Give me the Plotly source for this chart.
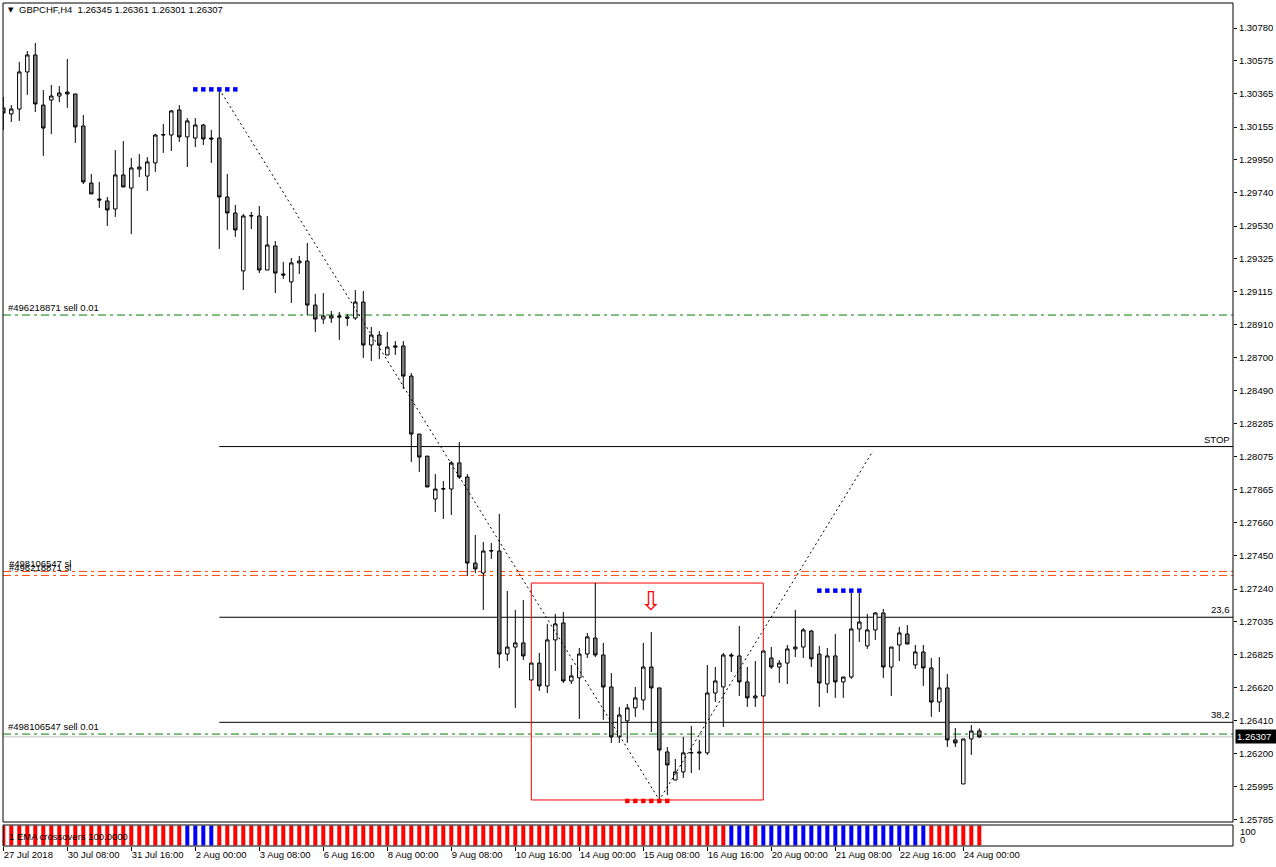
import plotly.graph_objects as go

# ---------------- data (GBPCHF, H4) ----------------
opens = [1.30276,1.30238,1.30269,1.30503,1.30610,1.30294,1.30326,1.30351,1.30376,1.30364,
         1.30162,1.29802,1.29701,1.29689,1.29638,1.29853,1.29770,1.29890,1.29846,1.29929,
         1.30105,1.30105,1.30263,1.30093,1.30086,1.30168,1.30086,1.30086,1.29714,1.29613,
         1.29247,1.29594,1.29594,1.29253,1.29405,1.29228,1.29178,1.29298,1.29310,1.29032,
         1.28944,1.28950,1.28963,1.28957,1.28950,1.29051,1.28780,1.28843,1.28717,1.28774,
         1.28774,1.28584,1.28218,1.28079,1.27808,1.27871,1.27871,1.28036,1.27947,1.27404,
         1.27341,1.27480,1.27480,1.26830,1.26874,1.26900,1.26666,1.26773,1.26628,1.26919,
         1.27026,1.26660,1.26680,1.26830,1.26931,1.26824,1.26622,1.26307,1.26408,1.26490,
         1.26540,1.26748,1.26616,1.26212,1.26035,1.26086,1.26206,1.26212,1.26206,1.26584,
         1.26622,1.26824,1.26818,1.26654,1.26553,1.26565,1.26805,1.26748,1.26773,1.26862,
         1.26874,1.26975,1.26830,1.26641,1.26818,1.26654,1.26685,1.26988,1.26881,1.26982,
         1.27089,1.26748,1.26887,1.26956,1.26761,1.26843,1.26742,1.26527,1.26616,1.26288,
         1.26010,1.26294,1.26345]
highs = [1.30345,1.30294,1.30566,1.30635,1.30686,1.30389,1.30421,1.30414,1.30585,1.30364,
         1.30231,1.29859,1.29809,1.29714,1.30010,1.30067,1.29960,1.29985,1.29966,1.30112,
         1.30175,1.30263,1.30294,1.30212,1.30212,1.30175,1.30137,1.30395,1.29859,1.29664,
         1.29607,1.29619,1.29657,1.29594,1.29436,1.29304,1.29329,1.29342,1.29424,1.29102,
         1.29108,1.28995,1.28988,1.28976,1.29127,1.29121,1.28894,1.28868,1.28862,1.28805,
         1.28805,1.28603,1.28218,1.28079,1.27966,1.27922,1.28048,1.28168,1.27966,1.27581,
         1.27537,1.27531,1.27714,1.27228,1.27108,1.27171,1.26773,1.26837,1.27020,1.27083,
         1.27095,1.26761,1.26868,1.26963,1.27278,1.26900,1.26710,1.26496,1.26515,1.26622,
         1.26900,1.26969,1.26616,1.26243,1.26168,1.26307,1.26376,1.26288,1.26761,1.26748,
         1.26837,1.26837,1.27007,1.26748,1.26786,1.26849,1.26874,1.26792,1.26887,1.27108,
         1.26994,1.26982,1.26881,1.26868,1.26956,1.26680,1.27215,1.27215,1.27083,1.27095,
         1.27114,1.26874,1.27001,1.27013,1.26887,1.26887,1.26805,1.26811,1.26704,1.26363,
         1.26294,1.26382,1.26361]
lows = [1.30137,1.30187,1.30194,1.30358,1.30250,1.29973,1.30111,1.30313,1.30276,1.30055,
        1.29796,1.29733,1.29645,1.29531,1.29588,1.29777,1.29480,1.29840,1.29752,1.29872,
        1.29992,1.30004,1.30061,1.29903,1.30029,1.30042,1.29929,1.29386,1.29506,1.29462,
        1.29127,1.29512,1.29234,1.29253,1.29108,1.29197,1.29045,1.29228,1.28969,1.28862,
        1.28913,1.28919,1.28812,1.28900,1.28938,1.28698,1.28679,1.28691,1.28717,1.28717,
        1.28502,1.28042,1.27979,1.27884,1.27726,1.27682,1.27707,1.27935,1.27323,1.27341,
        1.27108,1.27430,1.26742,1.26786,1.26490,1.26792,1.26666,1.26597,1.26584,1.26723,
        1.26647,1.26641,1.26420,1.26805,1.26811,1.26414,1.26269,1.26269,1.26269,1.26433,
        1.26477,1.26338,1.25909,1.25940,1.26035,1.26048,1.26079,1.26098,1.26193,1.26527,
        1.26370,1.26717,1.26565,1.26496,1.26496,1.26565,1.26736,1.26647,1.26641,1.26811,
        1.26805,1.26748,1.26496,1.26584,1.26553,1.26553,1.26673,1.26906,1.26862,1.26919,
        1.26679,1.26565,1.26786,1.26893,1.26736,1.26628,1.26433,1.26464,1.26243,1.26243,
        1.26010,1.26193,1.26301]
closes = [1.30244,1.30269,1.30503,1.30610,1.30301,1.30149,1.30351,1.30370,1.30364,1.30156,
          1.29809,1.29733,1.29695,1.29632,1.29853,1.29777,1.29897,1.29903,1.29935,1.30105,
          1.30107,1.30257,1.30093,1.30194,1.30168,1.30080,1.30080,1.29714,1.29613,1.29506,
          1.29594,1.29596,1.29253,1.29411,1.29234,1.29222,1.29298,1.29310,1.29032,1.28944,
          1.28963,1.28963,1.28957,1.28950,1.29051,1.28780,1.28843,1.28780,1.28767,1.28767,
          1.28584,1.28218,1.28073,1.27884,1.27871,1.27873,1.28036,1.27947,1.27404,1.27367,
          1.27480,1.27482,1.26830,1.26874,1.26900,1.26818,1.26773,1.26628,1.26919,1.27020,
          1.26660,1.26692,1.26830,1.26938,1.26824,1.26622,1.26307,1.26445,1.26490,1.26553,
          1.26748,1.26616,1.26224,1.26130,1.26086,1.26206,1.26208,1.26206,1.26584,1.26660,
          1.26824,1.26818,1.26654,1.26553,1.26565,1.26849,1.26748,1.26773,1.26862,1.26874,
          1.26982,1.26799,1.26647,1.26818,1.26654,1.26685,1.26988,1.27032,1.26982,1.27089,
          1.26748,1.26874,1.26963,1.26893,1.26843,1.26742,1.26527,1.26616,1.26288,1.26269,
          1.26294,1.26344,1.26307]

# EMA crossovers indicator: 1 = up (blue), 0 = down (red); value always 100
ema_up = [0]*23 + [1]*4 + [0]*64 + [1]*3 + [0] + [1]*21 + [0]*7
ema_value = [100]*123

time_ticks = ["27 Jul 2018", "30 Jul 08:00", "31 Jul 16:00", "2 Aug 00:00", "3 Aug 08:00",
              "6 Aug 16:00", "8 Aug 00:00", "9 Aug 08:00", "10 Aug 16:00", "14 Aug 00:00",
              "15 Aug 08:00", "16 Aug 16:00", "20 Aug 00:00", "21 Aug 08:00", "22 Aug 16:00",
              "24 Aug 00:00"]
tick_every = 8

price_ticks = [1.30780, 1.30575, 1.30365, 1.30155, 1.29950, 1.29740, 1.29530, 1.29325,
               1.29115, 1.28910, 1.28700, 1.28490, 1.28285, 1.28075, 1.27865, 1.27660,
               1.27450, 1.27240, 1.27035, 1.26825, 1.26620, 1.26410, 1.26200, 1.25995, 1.25785]

# order lines
sell1_price = 1.28969      # #496218871 sell 0.01
sell2_price = 1.26325      # #498106547 sell 0.01
sl_prices = [1.27351, 1.27326]
sl_labels = ["#498106547 sl", "#496218871 sl"]
# fibonacci levels (start at the swing-high bar)
fib_start_bar = 27
fib_prices = [1.28139, 1.27062, 1.26399]
fib_labels = ["STOP", "23,6", "38,2"]
# zigzag
zz_bars = [27, 82, 108.7]
zz_prices = [1.30395, 1.25909, 1.28111]
# pattern box
box_bars = [66, 95]
box_prices = [1.25909, 1.27278]
arrow_bar, arrow_price = 81, 1.27165
# dotted level markers
blue1_bars, blue1_price = [24, 25, 26, 27, 28, 29], 1.30393
blue2_bars, blue2_price = [102, 103, 104, 105, 106, 107], 1.27230
red_bars, red_price = [78, 79, 80, 81, 82, 83], 1.25903

# ---------------- layout geometry ----------------
W_FIG, H_FIG = 1276, 867
ML, MR, MT, MB = 3, 43, 3, 21
PW, PH = W_FIG - ML - MR, H_FIG - MT - MB
def xp(px):
    return (px - ML) / PW
def yp(py):
    return (H_FIG - MB - py) / PH

main_bottom_px, ind_top_px = 822, 825
x_range = [-0.0375, 153.71]
y_range = [1.25770, 1.30938]
FONT = "Liberation Sans"
FS = 9.5

bars = list(range(len(opens)))
fig = go.Figure()

fig.add_trace(go.Candlestick(
    x=bars, open=opens, high=highs, low=lows, close=closes,
    increasing=dict(line=dict(color="black", width=1), fillcolor="white"),
    decreasing=dict(line=dict(color="black", width=1), fillcolor="#808080"),
    whiskerwidth=0, xaxis="x", yaxis="y", hoverinfo="skip", showlegend=False))

fig.add_trace(go.Scatter(x=zz_bars, y=zz_prices, mode="lines",
                         line=dict(color="black", width=1, dash="2px,3px"),
                         xaxis="x", yaxis="y", hoverinfo="skip", showlegend=False))

for bx, py, col in [(blue1_bars, blue1_price, "#0000ff"), (blue2_bars, blue2_price, "#0000ff"),
                    (red_bars, red_price, "#ff0000")]:
    fig.add_trace(go.Scatter(x=bx, y=[py]*len(bx), mode="markers",
                             marker=dict(symbol="square", size=4.5, color=col, line=dict(width=0)),
                             xaxis="x", yaxis="y", hoverinfo="skip", showlegend=False))

fig.add_trace(go.Bar(x=bars, y=ema_value, width=0.5,
                     marker=dict(color=["#0000ff" if u else "#ff0000" for u in ema_up], line=dict(width=0)),
                     xaxis="x", yaxis="y2", hoverinfo="skip", showlegend=False))

shapes = []
DASHDOT = "8px,4px,3px,4px"
for p in (sell1_price, sell2_price):
    shapes.append(dict(type="line", xref="paper", yref="y", x0=0, x1=1, y0=p, y1=p,
                       line=dict(color="#008000", width=1, dash=DASHDOT), layer="below"))
for p in sl_prices:
    shapes.append(dict(type="line", xref="paper", yref="y", x0=0, x1=1, y0=p, y1=p,
                       line=dict(color="#ff4500", width=1, dash=DASHDOT), layer="below"))
shapes.append(dict(type="line", xref="paper", yref="y", x0=0, x1=1, y0=closes[-1], y1=closes[-1],
                   line=dict(color="#c0c0c0", width=1), layer="below"))
for p in fib_prices:
    shapes.append(dict(type="line", xref="x", yref="y", x0=fib_start_bar, x1=x_range[1], y0=p, y1=p,
                       line=dict(color="black", width=1), layer="below"))
shapes.append(dict(type="rect", xref="x", yref="y", x0=box_bars[0], x1=box_bars[1],
                   y0=box_prices[0], y1=box_prices[1], line=dict(color="#ff0000", width=1),
                   fillcolor="rgba(0,0,0,0)", layer="below"))
# frames
shapes.append(dict(type="rect", xref="paper", yref="paper", x0=0, x1=1, y0=yp(main_bottom_px), y1=1,
                   line=dict(color="black", width=1)))
shapes.append(dict(type="rect", xref="paper", yref="paper", x0=0, x1=1, y0=0, y1=yp(ind_top_px),
                   line=dict(color="black", width=1)))

ann = []
def txt(text, x, y, xref="paper", yref="paper", xanchor="left", yanchor="middle", size=FS,
        color="black", family=FONT, **kw):
    ann.append(dict(text=text, x=x, y=y, xref=xref, yref=yref, xanchor=xanchor, yanchor=yanchor,
                    showarrow=False, font=dict(family=family, size=size, color=color), **kw))

txt("▼", xp(6), yp(10), size=7, family="DejaVu Sans")
txt("GBPCHF,H4\u00a0\u00a0%.5f %.5f %.5f %.5f" % (opens[-1], highs[-1], lows[-1], closes[-1]),
    xp(17), yp(10))
txt("#496218871 sell 0.01", xp(6), sell1_price, yref="y", yanchor="bottom")
txt("#498106547 sell 0.01", xp(6), sell2_price, yref="y", yanchor="bottom")
for p, lab in zip(sl_prices, sl_labels):
    txt(lab, xp(7), p, yref="y", yanchor="bottom")
for p, lab in zip(fib_prices, fib_labels):
    txt(lab, xp(1232), p, yref="y", xanchor="right", yanchor="bottom")
txt("⇩", arrow_bar, arrow_price, xref="x", yref="y", xanchor="center", size=26,
    color="#ff0000", family="DejaVu Sans")
txt("%.5f" % closes[-1], xp(1235), closes[-1], yref="y", color="white",
    bgcolor="black", borderpad=1, width=38, align="left")
txt("1 EMA crossovers 100.0000", xp(7), yp(836))
txt("100", xp(1238), yp(831))
txt("0", xp(1238), yp(839))

fig.update_layout(
    width=W_FIG, height=H_FIG, margin=dict(l=ML, r=MR, t=MT, b=MB, autoexpand=False),
    paper_bgcolor="white", plot_bgcolor="white", showlegend=False,
    font=dict(family=FONT, size=FS, color="black"),
    boxgap=0.38, hovermode=False,
    xaxis=dict(range=x_range, anchor="y2", showgrid=False, zeroline=False, showline=False,
               tickvals=[i * tick_every for i in range(len(time_ticks))], ticktext=time_ticks,
               ticks="outside", ticklen=4, tickcolor="black", tickwidth=1, tickangle=0,
               automargin=False,
               ticklabelposition="outside right", tickfont=dict(family=FONT, size=FS, color="black"),
               rangeslider=dict(visible=False), fixedrange=True),
    yaxis=dict(domain=[yp(main_bottom_px), 1], range=y_range, side="right", anchor="x",
               showgrid=False, zeroline=False, showline=False, automargin=False,
               tickvals=price_ticks, ticktext=["%.5f" % v for v in price_ticks],
               ticks="outside", ticklen=3, tickcolor="black",
               tickfont=dict(family=FONT, size=FS, color="black"), fixedrange=True),
    yaxis2=dict(domain=[0, yp(ind_top_px)], range=[-3, 103], side="right", anchor="x",
                showgrid=False, zeroline=False, showline=False, showticklabels=False, ticks="",
                automargin=False, fixedrange=True),
    shapes=shapes, annotations=ann,
)

fig.write_html("out.html", config={"displayModeBar": False})
